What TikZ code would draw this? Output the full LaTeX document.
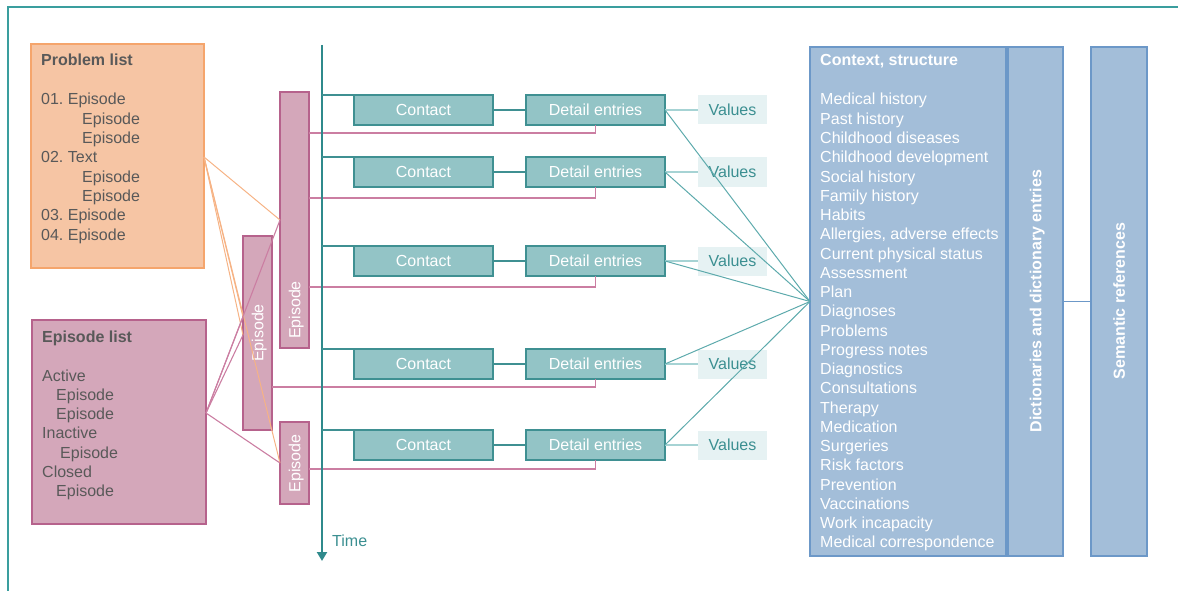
\documentclass[tikz,border=0pt]{standalone}
\usepackage{fontspec}
\setmainfont{Liberation Sans}
\usetikzlibrary{arrows.meta,calc}
\frenchspacing

\definecolor{frameteal}{HTML}{3A9E9E}
\definecolor{axisteal}{HTML}{2F8A8C}
\definecolor{tealfill}{HTML}{93C4C6}
\definecolor{tealdraw}{HTML}{3F9092}
\definecolor{valfill}{HTML}{E6F2F3}
\definecolor{valtext}{HTML}{3B8F91}
\definecolor{lightline}{HTML}{A6D3D4}
\definecolor{fanline}{HTML}{5DAAAC}
\definecolor{pinkfill}{HTML}{D4A7BA}
\definecolor{pinkdraw}{HTML}{B6628C}
\definecolor{pinkline}{HTML}{CB7EA2}
\definecolor{orangefill}{HTML}{F6C5A4}
\definecolor{orangedraw}{HTML}{F5A56C}
\definecolor{orangeline}{HTML}{F6B385}
\definecolor{bluefill}{HTML}{A3BED9}
\definecolor{bluedraw}{HTML}{6C98C8}
\definecolor{listgray}{HTML}{595959}

\tikzset{
  listbox/.style={line width=1.5pt, inner sep=0pt, outer sep=0pt},
  problembox/.style={listbox, draw=orangedraw, fill=orangefill},
  episodebox/.style={listbox, draw=pinkdraw, fill=pinkfill},
  bar/.style={draw=pinkdraw, fill=pinkfill, line width=1.5pt, minimum width=29pt, inner sep=0pt, outer sep=0pt},
  bartext/.style={rotate=90, text=white, text height=11.5pt, text depth=0pt, inner sep=0pt},
  tealbox/.style={draw=tealdraw, fill=tealfill, line width=1.6pt, minimum width=139pt, minimum height=30pt,
    text=white, inner sep=0pt, outer sep=0pt, text height=11.5pt, text depth=0pt},
  valbox/.style={fill=valfill, minimum width=69pt, minimum height=29pt, text=valtext, inner sep=0pt,
    outer sep=0pt, text height=11.5pt, text depth=0pt},
  bluebox/.style={draw=bluedraw, fill=bluefill, line width=1.5pt, minimum height=509pt, inner sep=0pt, outer sep=0pt},
  bluetext/.style={rotate=90, text=white, font=\bfseries\fontsize{16}{19.3}\selectfont,
    text height=11.5pt, text depth=0pt, inner sep=0pt},
  listtext/.style={anchor=base west, inner sep=0pt, text=listgray},
  ctxtext/.style={anchor=base west, inner sep=0pt, text=white},
  pinkconn/.style={draw=pinkline, line width=1.1pt},
  orangeconn/.style={draw=orangeline, line width=1pt},
  fanconn/.style={draw=fanline, line width=1pt},
  tealconn/.style={draw=tealdraw, line width=1.3pt},
  valconn/.style={draw=lightline, line width=1.4pt},
  timeaxis/.style={draw=axisteal, line width=2.6pt, -{Triangle[width=10pt,length=9pt]}},
  frameline/.style={draw=frameteal, line width=1.2pt}
}

\begin{document}
\begin{tikzpicture}[x=1pt, y=-1pt, font=\fontsize{16}{19.3}\selectfont]
\useasboundingbox (0,0) rectangle (1178,591);

% outer frame, top and left sides
\draw[frameline] (8,591) -- (8,7) -- (1178,7);

% problem list
\node[problembox, minimum width=173pt, minimum height=224pt] (plist) at (117.5,156) {};
\node[listtext, font=\bfseries\fontsize{16}{19.3}\selectfont] (pltitle) at (41,66) {Problem list};
\foreach \px/\py/\txt [count=\i] in {41/105/01. Episode, 82/124.3/Episode, 82/143.6/Episode,
    41/162.9/02. Text, 82/182.2/Episode, 82/201.5/Episode, 41/220.8/03. Episode, 41/240.1/04. Episode}
  \node[listtext] (pl\i) at (\px,\py) {\txt};

% episode list
\node[episodebox, minimum width=174pt, minimum height=204pt] (elist) at (119,422) {};
\node[listtext, font=\bfseries\fontsize{16}{19.3}\selectfont] (eltitle) at (42,342) {Episode list};
\foreach \px/\py/\txt [count=\i] in {42/381/Active, 56/400.3/Episode, 56/419.6/Episode,
    42/438.9/Inactive, 60/458.2/Episode, 42/477.5/Closed, 56/496.8/Episode}
  \node[listtext] (el\i) at (\px,\py) {\txt};

% episode bars
\node[bar, minimum height=256pt] (bigbar) at (294.5,220) {};
\node[bar, minimum height=194pt] (midbar) at (257.5,333) {};
\node[bar, minimum height=82pt] (smallbar) at (294.5,463) {};
\node[bartext] (bigbartext) at (294.5,310) {Episode};
\node[bartext] (midbartext) at (257.5,333) {Episode};
\node[bartext] (smallbartext) at (294.5,463.5) {Episode};

% contacts, detail entries and values, one row per contact
\foreach \row/\cy in {1/110, 2/172, 3/261, 4/364, 5/445} {
  \node[tealbox] (c\row) at (423.5,\cy) {Contact};
  \node[tealbox] (d\row) at (595.5,\cy) {Detail entries};
  \node[valbox] (v\row) at (732.5,\cy) {Values};
}

% feeds from the episodes to the detail entries
\coordinate (f1) at (0,133);
\coordinate (f2) at (0,198);
\coordinate (f3) at (0,287);
\coordinate (f4) at (0,387);
\coordinate (f5) at (0,469);
\draw[pinkconn] (bigbar.east |- f1) -| (d1.south);
\draw[pinkconn] (bigbar.east |- f2) -| (d2.south);
\draw[pinkconn] (bigbar.east |- f3) -| (d3.south);
\draw[pinkconn] (midbar.east |- f4) -| (d4.south);
\draw[pinkconn] (smallbar.east |- f5) -| (d5.south);

% time axis
\coordinate (ttop) at (322,45);
\coordinate (tbot) at (322,561);
\draw[timeaxis] (ttop) -- (tbot);
\node[anchor=base west, inner sep=0pt, text=valtext] (timelabel) at (332,546.5) {Time};

% row links
\foreach \row in {1,...,5} {
  \draw[tealconn] (ttop |- c\row.north west) -- (c\row.north west);
  \draw[tealconn] (c\row.east) -- (d\row.west);
  \draw[valconn] (d\row.east) -- (v\row.west);
}

% context, dictionaries, semantic references
\node[bluebox, minimum width=196pt] (ctx) at (908,301.5) {};
\node[bluebox, minimum width=55pt] (dict) at (1035.5,301.5) {};
\node[bluebox, minimum width=56pt] (sem) at (1119,301.5) {};
\draw[draw=bluedraw, line width=1.2pt] (dict.east) -- (sem.west);
\node[bluetext] (dicttext) at (1035.5,301) {Dictionaries and dictionary entries};
\node[bluetext] (semtext) at (1119,301) {Semantic references};
\node[ctxtext, font=\bfseries\fontsize{16}{19.3}\selectfont] (ctxtitle) at (820,66) {Context, structure};
\foreach \txt [count=\i from 0] in {Medical history, Past history, Childhood diseases,
    Childhood development, Social history, Family history, Habits,
    {Allergies, adverse effects}, Current physical status, Assessment, Plan, Diagnoses,
    Problems, Progress notes, Diagnostics, Consultations, Therapy, Medication, Surgeries,
    Risk factors, Prevention, Vaccinations, Work incapacity, Medical correspondence}
  \node[ctxtext] (ctx\i) at (820,105+19.26*\i) {\txt};

% detail entries fan into the context structure
\foreach \row in {1,...,5}
  \draw[fanconn] (d\row.east) -- (ctx.west);

% list-to-episode links
\coordinate (plout) at (204,157);
\coordinate (elout) at (206,413);
\coordinate (m1) at (243,317);
\coordinate (m2) at (243,335);
\foreach \tgt in {bigbar.west, m1, m2, smallbar.west}
  \draw[orangeconn] (plout) -- (\tgt);
\foreach \tgt in {bigbar.west, m1, m2, smallbar.west}
  \draw[pinkconn] (elout) -- (\tgt);

\end{tikzpicture}
\end{document}
